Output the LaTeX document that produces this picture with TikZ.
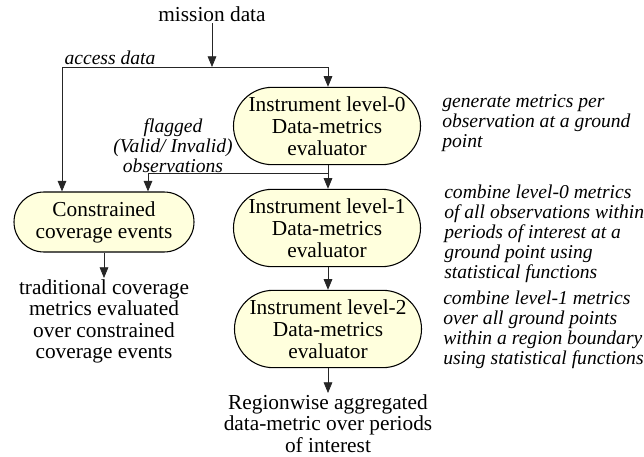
\documentclass[tikz,border=0pt]{standalone}
\usepackage{fontspec}
\setmainfont{Liberation Serif}
\usetikzlibrary{shapes.misc,arrows.meta}
\definecolor{boxfill}{RGB}{255,255,221}
\tikzset{
  box/.style={rounded rectangle, draw=black, line width=0.8pt, fill=boxfill,
    minimum width=136pt, minimum height=58pt, align=center, inner sep=1pt,
    font=\fontsize{16}{16.5}\selectfont},
  cbox/.style={box, minimum width=137pt, minimum height=45pt},
  txt/.style={align=center, inner sep=1pt, font=\fontsize{16}{16}\selectfont},
  note/.style={align=left, anchor=west, inner sep=0pt, font=\fontsize{14.7}{15}\selectfont\itshape},
  lbl/.style={align=center, inner sep=0pt, font=\fontsize{14.7}{15}\selectfont\itshape},
  arr/.style={draw=black!85, line width=0.6pt, -{Triangle[length=8pt,width=6.5pt]}},
  ln/.style={draw=black!85, line width=0.6pt}
}
\begin{document}
\begin{tikzpicture}[x=0.75pt,y=-0.75pt]
\useasboundingbox (0,0) rectangle (644,457);
\node[txt] (M) at (212,14) {mission data};
\node[box] (L0) at (327,126) {Instrument level-0\\Data-metrics\\evaluator};
\node[box] (L1) at (327,228) {Instrument level-1\\Data-metrics\\evaluator};
\node[box] (L2) at (328,329) {Instrument level-2\\Data-metrics\\evaluator};
\node[cbox] (C) at (104,222) {Constrained\\coverage events};
\node[txt, anchor=north] (T1) at (104,278) {traditional coverage\\metrics evaluated\\over constrained\\coverage events};
\node[txt, anchor=north] (R) at (328,393) {Regionwise aggregated\\data-metric over periods\\of interest};
\node[lbl] (AD) at (110,58) {access data};
\node[lbl] (FL) at (173,146) {flagged\\(Valid/ Invalid)\\observations};
\node[note] (N0) at (442,123) {generate metrics per\\observation at a ground\\point};
\node[note] (N1) at (444,234) {combine level-0 metrics\\of all observations within\\periods of interest at a\\ground point using\\statistical functions};
\node[note] (N2) at (443,329.5) {combine level-1 metrics\\over all ground points\\within a region boundary\\using statistical functions};
\coordinate (J) at (212,67);
\coordinate (JL) at (62,67);
\coordinate (JR) at (328,67);
\coordinate (K) at (328,173);
\coordinate (KL) at (148,173);
\draw[arr] (M.south) -- (J);
\draw[ln] (JL) -- (JR);
\draw[arr] (JR) -- (JR |- L0.north);
\draw[arr] (JL) -- (JL |- C.north);
\draw[arr] (JR |- L0.south) -- (JR |- L1.north);
\draw[ln] (K) -- (KL);
\draw[arr] (KL) -- (KL |- C.north);
\draw[arr] (C.south) -- (T1.north);
\draw[arr] (JR |- L1.south) -- (JR |- L2.north);
\draw[arr] (JR |- L2.south) -- (R.north -| JR);
\end{tikzpicture}
\end{document}
